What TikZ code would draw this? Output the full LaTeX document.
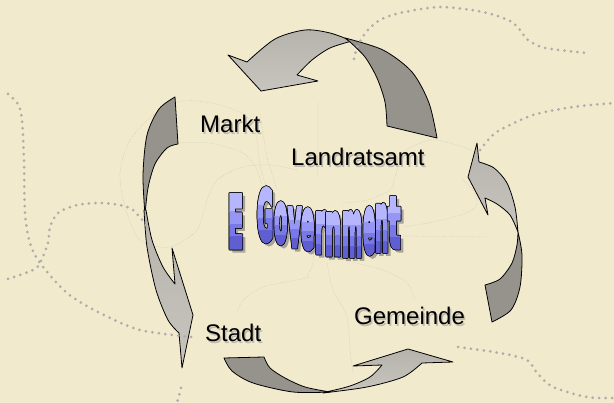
\documentclass[tikz,border=0pt]{standalone}
\usepackage{fontspec}
\setmainfont{Liberation Sans}
\newfontfamily\govfont{DejaVu Sans}[FakeBold=8]
\definecolor{bg}{RGB}{242,234,204}
\definecolor{dotgray}{RGB}{176,171,172}
\definecolor{faintgray}{RGB}{204,200,190}
\definecolor{arrowdark}{RGB}{150,147,141}
\definecolor{lighttop}{RGB}{182,178,172}
\definecolor{lightbot}{RGB}{200,197,190}
\definecolor{txtshadow}{RGB}{190,186,175}
\definecolor{govA}{RGB}{182,182,255}
\definecolor{govB}{RGB}{150,150,245}
\definecolor{govC}{RGB}{120,120,230}
\definecolor{govD}{RGB}{95,95,210}
\definecolor{govshadow}{RGB}{168,164,156}

\begin{document}
\begin{tikzpicture}[x=1pt,y=-1pt,
  bigdots/.style={draw=dotgray, line width=3pt, line cap=round, dash pattern=on 0pt off 6.5pt},
  faint/.style={draw=faintgray, line width=0.5pt, dash pattern=on 0.6pt off 1.2pt},
  lightpart/.style={draw=black, line width=0.8pt, line join=round, top color=lighttop, bottom color=lightbot},
  darkpart/.style={draw=black, line width=0.8pt, line join=round, fill=arrowdark},
  lbl/.style={anchor=base west, inner sep=0pt, font=\fontsize{24}{28}\selectfont},
  govch/.style={anchor=south west, inner sep=0pt, font=\govfont\bfseries}]
\useasboundingbox (0,0) rectangle (614,403);
\fill[bg] (0,0) rectangle (614,403);

% faint network
\draw[faint] plot[smooth] coordinates {(267,190) (260,165) (256,135) (245,115) (220,105) (197,101) (177,102) (153,115) (130,140) (120,173) (125,207) (140,240) (170,247) (197,230) (207,200) (217,180) (243,167) (270,165) (297,170)};
\draw[faint] plot[smooth] coordinates {(180,143) (210,143) (243,153) (257,170) (263,190)};
\draw[faint] plot[smooth] coordinates {(260,113) (267,157) (273,177) (277,190)};
\draw[faint] plot[smooth] coordinates {(237,313) (243,300) (263,287) (297,280) (310,277)};
\draw[faint] plot[smooth] coordinates {(318,103) (318,150) (317,177)};
\draw[faint] plot[smooth] coordinates {(343,203) (367,200) (390,190) (395,177) (403,153) (423,142) (437,140) (463,147) (477,153)};
\draw[faint] plot[smooth] coordinates {(463,180) (473,190) (477,203) (467,213) (433,222) (403,227)};
\draw[faint] (400,236) -- (487,237);
\draw[faint] plot[smooth] coordinates {(343,260) (383,270) (407,283) (415,300)};
\draw[faint] plot[smooth] coordinates {(327,263) (333,290) (347,317) (350,350) (353,373)};
\draw[faint] plot[smooth] coordinates {(313,247) (313,263) (307,277)};

% top arrow
\path[lightpart] (247,62) -- (228,55) -- (261,91) -- (318,81) -- (297,75)
  -- plot[smooth] coordinates {(297,75) (312,60) (330,48) (352,41)}
  -- plot[smooth] coordinates {(352,41) (330,33) (305,30) (275,39) (247,62)} -- cycle;
\path[darkpart] (345,38) -- plot[smooth] coordinates {(345,38) (383,50) (412,72) (429,103) (437,138)}
  -- (387,126) -- plot[smooth] coordinates {(387,126) (385,102) (377,78) (365,57) (350,42)} -- cycle;

% left arrow
\path[darkpart] (175,97) -- (178,144) -- plot[smooth] coordinates {(178,144) (167,148) (155,164) (148,188) (145,215)}
  -- plot[smooth] coordinates {(145,215) (143,175) (147,135) (159,109) (175,97)} -- cycle;
\path[lightpart] (144,210) -- plot[smooth] coordinates {(144,210) (147,247) (156,290) (168,320) (179,333)}
  -- (182,368) -- (193,315) -- (172,248) -- (175,284)
  -- plot[smooth] coordinates {(175,284) (163,267) (152,240) (146,210)} -- cycle;

% right arrow
\path[lightpart] (477,143) -- (479,162) -- plot[smooth] coordinates {(479,162) (494,168) (507,183) (515,207) (518,232)}
  -- plot[smooth] coordinates {(518,232) (510,215) (497,204) (485,198)} -- (488,215) -- (468,177) -- cycle;
\path[darkpart] (518,232) -- plot[smooth] coordinates {(518,232) (522,255) (520,287) (511,310) (492,322)}
  -- (485,285) -- plot[smooth] coordinates {(485,285) (500,279) (512,263) (517,245) (518,232)} -- cycle;

% bottom arrow
\path[darkpart] (224,358) -- (264,357) -- plot[smooth] coordinates {(264,357) (270,368) (285,378) (305,387) (330,392)}
  -- plot[smooth] coordinates {(330,392) (293,392) (253,383) (232,371) (224,358)} -- cycle;
\path[lightpart] (323,393) -- plot[smooth] coordinates {(323,393) (367,387) (403,377) (422,363)}
  -- (453,362) -- (408,349) -- (353,366) -- (382,365)
  -- plot[smooth] coordinates {(382,365) (370,377) (350,386) (326,392)} -- cycle;

% dotted lines
\draw[bigdots] plot[smooth] coordinates {(354,59) (358,45) (367,31) (380,20) (400,13) (440,7) (483,12) (510,21) (520,30) (528,40) (545,48) (587,53)};
\draw[bigdots] plot[smooth] coordinates {(480,150) (490,138) (500,130) (533,115) (573,107) (614,103)};
\draw[bigdots] plot[smooth] coordinates {(458,347) (500,353) (527,360) (537,373) (553,387) (587,397) (614,398)};
\draw[bigdots] plot[smooth] coordinates {(8,94) (18,104) (22,120) (24,163) (25,213) (30,243) (40,263) (67,293) (100,313) (140,330) (192,337)};
\draw[bigdots] plot[smooth] coordinates {(8,279) (33,270) (40,263) (48,243) (50,227) (58,213) (77,205) (100,203) (120,205) (133,210) (148,227)};
\draw[bigdots] (181,388) -- (177,403);

% labels with soft shadow
\foreach \nm/\tx/\xx/\yy in {markt/Markt/200/133, landrat/Landratsamt/291/166, gemeinde/Gemeinde/354/325, stadt/Stadt/205/342} {
  \node[lbl, text=txtshadow] at (\xx+1.5,\yy+1.5) {\tx};
  \node[lbl] (\nm) at (\xx,\yy) {\tx};
}

% E Government, one stretched letter at a time
\foreach \ch/\xx/\ww/\hh/\yb [count=\i] in {E/228/15/51/247, G/257/16/51/241, o/274/13/38/243, v/288/13/37/246,
    e/301/13/38/249, r/315/10/39/252, n/325/16/40/254, m/342/20/42/255, e/363/12/43/253, n/375/13/44/250, t/388/12/48/247} {
  % shadow and outline
  \foreach \dx/\dy/\cl in {3/3/govshadow, -0.7/0/black, 0.7/0/black, 0/-0.7/black, 0/0.7/black,
      -0.5/-0.5/black, 0.5/0.5/black, -0.5/0.5/black, 0.5/-0.5/black}
    \node[govch, text=\cl, shift={(\dx,\dy)}] at (\xx,\yb) {\resizebox{\ww pt}{\hh pt}{\color{\cl}\ch}};
  % fill in bands, light at the top
  \foreach \fa/\fb/\cl in {0-0.2/0.3/govA, 0.3/0.55/govB, 0.55/0.8/govC, 0.8/1.2/govD} {
    \begin{scope}
      \clip (\xx-4,\yb-\hh+\fa*\hh) rectangle (\xx+\ww+4,\yb-\hh+\fb*\hh);
      \node[govch, text=\cl] at (\xx,\yb) {\resizebox{\ww pt}{\hh pt}{\color{\cl}\ch}};
    \end{scope}
  }
  \coordinate (gov\i) at (\xx,\yb);
}
\end{tikzpicture}
\end{document}
